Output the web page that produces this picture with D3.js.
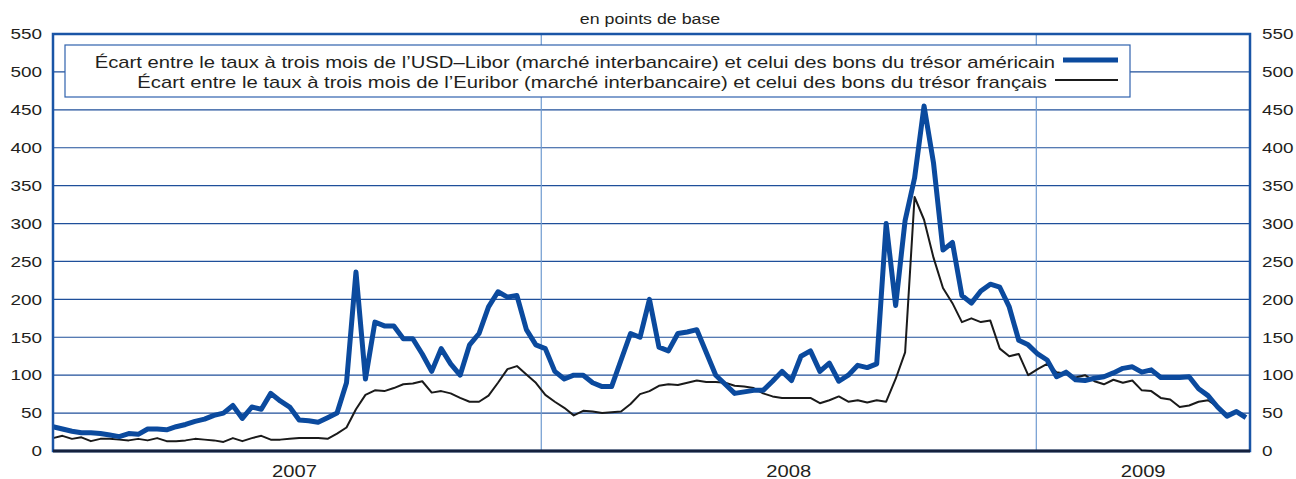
<!DOCTYPE html>
<html>
<head>
<meta charset="utf-8">
<script src="https://cdn.jsdelivr.net/npm/d3@7/dist/d3.min.js"></script>
<style>
    body { margin: 0; background: #fff; }
    #chart { width: 1296px; height: 479px; }
    text { font-family: "Liberation Sans", Arial, Helvetica, sans-serif; fill: #231f20; }
</style>
</head>
<body>
<div id="chart"></div>
<script>
// weekly observations (fridays), jan 2007 - june 2009
const weeks = d3.timeFriday.range(new Date(2007, 0, 5), new Date(2009, 5, 6));

// USD-Libor 3m minus US T-bill 3m, basis points
const usdSpread = [
    32, 29, 26, 24, 24, 23, 21, 19, 23, 22,
    29, 29, 28, 32, 35, 39, 42, 47, 50, 60,
    43, 58, 55, 76, 66, 58, 41, 40, 38, 44,
    50, 90, 236, 95, 170, 165, 165, 148, 148, 128,
    105, 135, 115, 100, 140, 155, 190, 210, 203, 205,
    160, 140, 135, 105, 95, 100, 100, 90, 85, 85,
    120, 155, 150, 200, 137, 132, 155, 157, 160, 130,
    100, 88, 76, 78, 80, 80, 92, 105, 93, 125,
    132, 105, 116, 92, 100, 113, 110, 115, 300, 192,
    304, 360, 455, 380, 265, 275, 205, 195, 211, 220,
    216, 190, 146, 140, 128, 120, 98, 104, 94, 93,
    96, 98, 103, 109, 111, 104, 107, 97, 97, 97,
    98, 82, 73, 58, 46, 52, 44
];

// Euribor 3m minus French T-bill 3m, basis points
const eurSpread = [
    17, 20, 16, 18, 13, 16, 16, 15, 14, 16,
    14, 17, 13, 13, 14, 16, 15, 14, 12, 17,
    13, 17, 20, 15, 15, 16, 17, 17, 17, 16,
    23, 31, 55, 74, 80, 79, 83, 88, 89, 92,
    77, 79, 76, 70, 65, 65, 73, 90, 108, 112,
    101, 90, 74, 65, 57, 47, 53, 52, 50, 51,
    52, 62, 75, 79, 86, 88, 87, 90, 93, 91,
    91, 90, 86, 85, 83, 76, 72, 70, 70, 70,
    70, 63, 67, 72, 65, 67, 64, 67, 65, 95,
    130, 335, 305, 255, 215, 195, 170, 175, 170, 172,
    135, 125, 128, 100, 108, 115, 104, 102, 97, 100,
    92, 88, 94, 90, 93, 80, 79, 70, 68, 58,
    60, 65, 67, 58, 47, 53, 46
];

const yTicks = [0, 50, 100, 150, 200, 250, 300, 350, 400, 450, 500, 550];
const years = [2007, 2008, 2009];
const legendLabels = [
    "Écart entre le taux à trois mois de l’USD–Libor (marché interbancaire) et celui des bons du trésor américain",
    "Écart entre le taux à trois mois de l’Euribor (marché interbancaire) et celui des bons du trésor français"
];
const unitLabel = "en points de base";

// the original typeface is a wide grotesque: widen the glyphs of Liberation Sans
function stretch(selection, factor) {
    selection.each(function() {
        let w = this.getComputedTextLength();
        d3.select(this)
            .attr("textLength", w * factor)
            .attr("lengthAdjust", "spacingAndGlyphs");
    });
}

class SpreadChart {

    constructor(parentElement) {
        this.parentElement = parentElement;
        this.initVis();
    }

    initVis() {
        let vis = this;

        vis.margin = {top: 34, right: 46, bottom: 28, left: 53};
        vis.width = 1296 - vis.margin.left - vis.margin.right;
        vis.height = 479 - vis.margin.top - vis.margin.bottom;

        vis.root = d3.select("#" + vis.parentElement)
            .append("svg")
            .attr("width", 1296)
            .attr("height", 479);

        vis.svg = vis.root.append("g")
            .attr("transform", "translate(" + vis.margin.left + "," + vis.margin.top + ")");

        vis.x = d3.scaleTime()
            .domain([new Date(2007, 0, 5), new Date(2009, 5, 8)])
            .range([0, vis.width]);

        vis.y = d3.scaleLinear()
            .domain([0, 550])
            .range([vis.height, 0]);

        vis.root.append("text")
            .attr("x", 650)
            .attr("y", 24)
            .attr("text-anchor", "middle")
            .style("font-size", "14px")
            .text(unitLabel)
            .call(stretch, 1.27);

        vis.updateVis();
    }

    updateVis() {
        let vis = this;

        // horizontal grid
        vis.svg.selectAll(".grid-h")
            .data(yTicks.filter(d => d > 0 && d < 550))
            .enter().append("line")
            .attr("class", "grid-h")
            .attr("x1", 0)
            .attr("x2", vis.width)
            .attr("y1", d => vis.y(d))
            .attr("y2", d => vis.y(d))
            .style("stroke", "#1f4f9a")
            .style("stroke-width", 1.2);

        // year separators
        let yearStarts = years.map(d => new Date(d, 0, 1))
            .filter(d => d > vis.x.domain()[0]);
        vis.svg.selectAll(".grid-v")
            .data(yearStarts)
            .enter().append("line")
            .attr("class", "grid-v")
            .attr("x1", d => vis.x(d))
            .attr("x2", d => vis.x(d))
            .attr("y1", 0)
            .attr("y2", vis.height)
            .style("stroke", "#6f9bd0")
            .style("stroke-width", 1.2);

        // y axes, both sides
        let yLeft = d3.axisLeft(vis.y).tickValues(yTicks).tickSize(0).tickPadding(11);
        let yRight = d3.axisRight(vis.y).tickValues(yTicks).tickSize(0).tickPadding(12);

        vis.svg.append("g").attr("class", "axis").call(yLeft);
        vis.svg.append("g").attr("class", "axis")
            .attr("transform", "translate(" + vis.width + ",0)")
            .call(yRight);

        vis.svg.selectAll(".axis path").remove();
        vis.svg.selectAll(".axis text")
            .style("font-size", "15px")
            .attr("fill", "#231f20")
            .call(stretch, 1.26);

        // year labels centred on each calendar year (clipped at the right end)
        let dom = vis.x.domain();
        vis.svg.selectAll(".year-label")
            .data(years)
            .enter().append("text")
            .attr("class", "year-label")
            .attr("x", function(d) {
                let a = new Date(d, 0, 1);
                let b = d3.min([new Date(d + 1, 0, 1), dom[1]]);
                return (vis.x(a) + vis.x(b)) / 2;
            })
            .attr("y", vis.height + 26)
            .attr("text-anchor", "middle")
            .style("font-size", "16px")
            .text(d => d)
            .call(stretch, 1.26);

        // series
        let line = d3.line()
            .x((d, i) => vis.x(weeks[i]))
            .y(d => vis.y(d));

        vis.svg.append("path")
            .datum(eurSpread)
            .attr("d", line)
            .style("fill", "none")
            .style("stroke", "#1a1a1a")
            .style("stroke-width", 2)
            .style("stroke-linejoin", "round");

        vis.svg.append("path")
            .datum(usdSpread)
            .attr("d", line)
            .style("fill", "none")
            .style("stroke", "#0b4a9e")
            .style("stroke-width", 5)
            .style("stroke-linejoin", "round");

        // frame
        vis.svg.append("rect")
            .attr("width", vis.width)
            .attr("height", vis.height)
            .style("fill", "none")
            .style("stroke", "#1a55a6")
            .style("stroke-width", 2.5);

        vis.svg.append("line")
            .attr("x1", 0)
            .attr("x2", vis.width)
            .attr("y1", vis.height)
            .attr("y2", vis.height)
            .style("stroke", "#14213d")
            .style("stroke-width", 3);

        vis.drawLegend();
    }

    drawLegend() {
        let vis = this;

        let legend = vis.svg.append("g")
            .attr("transform", "translate(12,11)");

        legend.append("rect")
            .attr("width", 1065)
            .attr("height", 52)
            .style("fill", "#fff")
            .style("stroke", "#2f62ad")
            .style("stroke-width", 1.2);

        // text right end and sample start, per row
        let styles = [
            {color: "#0b4a9e", w: 5, end: 990, start: 998},
            {color: "#1a1a1a", w: 2, end: 982, start: 990}
        ];

        legendLabels.forEach(function(label, i) {
            let yy = 15 + i * 20;
            legend.append("text")
                .attr("x", styles[i].end)
                .attr("y", yy + 8)
                .attr("text-anchor", "end")
                .style("font-size", "17px")
                .text(label)
                .call(stretch, 1.19);
            legend.append("line")
                .attr("x1", styles[i].start)
                .attr("x2", 1053)
                .attr("y1", yy)
                .attr("y2", yy)
                .style("stroke", styles[i].color)
                .style("stroke-width", styles[i].w);
        });
    }
}

new SpreadChart("chart");
</script>
</body>
</html>
